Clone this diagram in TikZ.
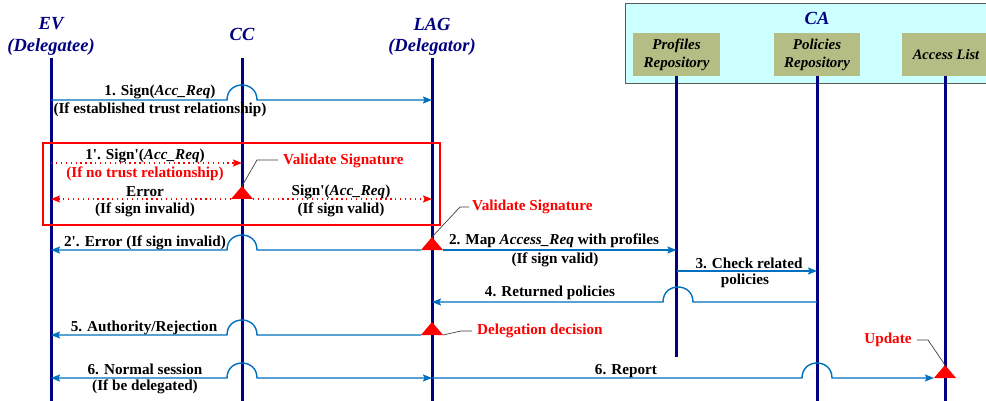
\documentclass[tikz,border=0pt]{standalone}
\usepackage{fontspec}
\setmainfont{Liberation Serif}
\usetikzlibrary{arrows.meta,calc}
\definecolor{navy}{RGB}{0,0,128}
\definecolor{msgblue}{RGB}{0,112,192}
\definecolor{cafill}{RGB}{204,255,255}
\definecolor{repofill}{RGB}{179,189,132}
\definecolor{leadgray}{RGB}{64,64,64}
\newcommand\apos{\textquotesingle}
\begin{document}
\begin{tikzpicture}[x=1pt,y=-1pt,
  lifeline/.style={navy,line width=3pt},
  tip/.style={-{Stealth[length=9pt,width=7pt,inset=1.5pt]}},
  msg/.style={msgblue,line width=1.4pt,tip},
  msgboth/.style={msgblue,line width=1.4pt,{Stealth[length=9pt,width=7pt,inset=1.5pt]}-{Stealth[length=9pt,width=7pt,inset=1.5pt]}},
  dotmsg/.style={red,line width=1.3pt,dash pattern=on 1.3pt off 3.6pt,tip},
  redbox/.style={red,line width=2pt},
  leader/.style={leadgray,line width=0.7pt},
  lbl/.style={font=\fontsize{15.2}{17}\selectfont\bfseries,inner sep=0pt},
  note/.style={font=\fontsize{15.2}{17}\selectfont\bfseries,text=red,inner sep=0pt},
  title/.style={font=\fontsize{18.5}{21}\selectfont\bfseries\itshape,text=navy,inner sep=0pt},
  repo/.style={fill=repofill,font=\fontsize{15}{18}\selectfont\bfseries\itshape,align=center,inner sep=0pt,minimum height=43pt},
  hopr/.style 2 args={insert path={-- (#1-15,#2) .. controls (#1-15,#2-20) and (#1+15,#2-20) .. (#1+15,#2)}},
  hopl/.style 2 args={insert path={-- (#1+15,#2) .. controls (#1+15,#2-20) and (#1-15,#2-20) .. (#1-15,#2)}},
  tri/.style={fill=red,draw=none}
]
\clip (0,0) rectangle (986,401);
\fill[white] (0,0) rectangle (986,401);

% CA box
\draw[fill=cafill,draw=gray!70!black,line width=0.8pt] (625,3) rectangle (995,83);
\node[title] (ca) at (817,18) {CA};
\node[repo,minimum width=87pt] (prorep) at (676.5,54.5) {Profiles\\Repository};
\node[repo,minimum width=86pt] (polrep) at (817,54.5) {Policies\\Repository};
\node[repo,minimum width=88pt,font=\fontsize{14.5}{18}\selectfont\bfseries\itshape] (accrep) at (946,54.5) {Access List};

% titles
\node[title] (evt) at (51,24) {EV};
\node[title] (evt2) at (51,47) {(Delegatee)};
\node[title] (cct) at (242,34) {CC};
\node[title] (lagt) at (432,24) {LAG};
\node[title] (lagt2) at (432,47) {(Delegator)};

% lifelines
\coordinate (ev) at (51,58);
\coordinate (cc) at (242,58);
\coordinate (lag) at (432,58);
\coordinate (pro) at (prorep.south);
\coordinate (pol) at (polrep.south);
\coordinate (acc) at (945,76);
\draw[lifeline] (ev) -- (ev |- 0,402);
\draw[lifeline] (cc) -- (cc |- 0,402);
\draw[lifeline] (lag) -- (lag |- 0,402);
\draw[lifeline] (pro) -- (pro |- 0,357);
\draw[lifeline] (pol) -- (pol |- 0,402);
\draw[lifeline] (acc) -- (acc |- 0,402);

% message 1
\draw[msg] (ev |- 0,100) [hopr={242}{100}] -- (lag |- 0,100);
\node[lbl] at (160,92) {1. Sign(\textit{Acc\_Req})};
\node[lbl] at (160,110) {(If established trust relationship)};

% red box
\draw[redbox] (43,143) rectangle (440,225);
\draw[dotmsg] (ev |- 0,163) -- (cc |- 0,163);
\node[lbl] at (145,156) {1\apos. Sign\apos(\textit{Acc\_Req})};
\node[lbl,text=red] at (145,174) {(If no trust relationship)};
\fill[tri] (231,199) coordinate (t1l) -- (253,199) coordinate (t1r) -- (242,186) coordinate (t1a) -- cycle;
\draw[dotmsg] (t1l) -- (ev |- 0,199);
\draw[dotmsg] (t1r) -- (lag |- 0,199);
\node[lbl] at (145,192) {Error};
\node[lbl] at (145,210) {(If sign invalid)};
\node[lbl] at (341,192) {Sign\apos(\textit{Acc\_Req})};
\node[lbl] at (341,210) {(If sign valid)};
\coordinate (l1a) at (257,160);
\coordinate (l1b) at (278,160);
\draw[leader] (t1a) -- (l1a) -- (l1b);
\node[note,anchor=west] (vs1) at (283,161) {Validate Signature};

% message 2' and 2
\fill[tri] (421,250) coordinate (t2l) -- (443,250) coordinate (t2r) -- (432,237) coordinate (t2a) -- cycle;
\draw[msg] (t2l) [hopl={242}{250}] -- (ev |- 0,250);
\node[lbl] at (145,243) {2\apos. Error (If sign invalid)};
\draw[msg] (t2r) -- (pro |- 0,250);
\node[lbl] at (554,241) {2. Map \textit{Access\_Req} with profiles};
\node[lbl] at (555,260) {(If sign valid)};
\coordinate (l2a) at (460,207);
\coordinate (l2b) at (469,207);
\draw[leader] (t2a) -- (l2a) -- (l2b);
\node[note,anchor=west] (vs2) at (472,207) {Validate Signature};

% message 3
\draw[msg] (pro |- 0,271) -- (pol |- 0,271);
\node[lbl] at (749,263) {3. Check related};
\node[lbl] at (745,281) {policies};

% message 4
\draw[msg] (pol |- 0,302) [hopl={678}{302}] -- (lag |- 0,302);
\node[lbl] at (550,293) {4. Returned policies};

% message 5
\fill[tri] (421,335) coordinate (t3l) -- (443,335) coordinate (t3r) -- (432,322) coordinate (t3a) -- cycle;
\draw[msg] (t3l) [hopl={242}{335}] -- (ev |- 0,335);
\node[lbl] at (144,328) {5. Authority/Rejection};
\coordinate (l3a) at (461,331);
\coordinate (l3b) at (472,331);
\draw[leader] (t3r) -- (l3a) -- (l3b);
\node[note,anchor=west] (dd) at (477,331) {Delegation decision};

% message 6
\draw[msgboth] (ev |- 0,378) [hopr={242}{378}] -- (lag |- 0,378);
\node[lbl] at (145,369) {6. Normal session};
\node[lbl] at (145,387) {(If be delegated)};
\fill[tri] (934,378) coordinate (t4l) -- (956,378) coordinate (t4r) -- (945,365) coordinate (t4a) -- cycle;
\draw[msg] (lag |- 0,378) [hopr={817}{378}] -- (t4l);
\node[lbl] at (626,371) {6. Report};
\coordinate (l4a) at (928,340);
\coordinate (l4b) at (917,340);
\draw[leader] (t4a) -- (l4a) -- (l4b);
\node[note] (upd) at (888,340) {Update};
\end{tikzpicture}
\end{document}
